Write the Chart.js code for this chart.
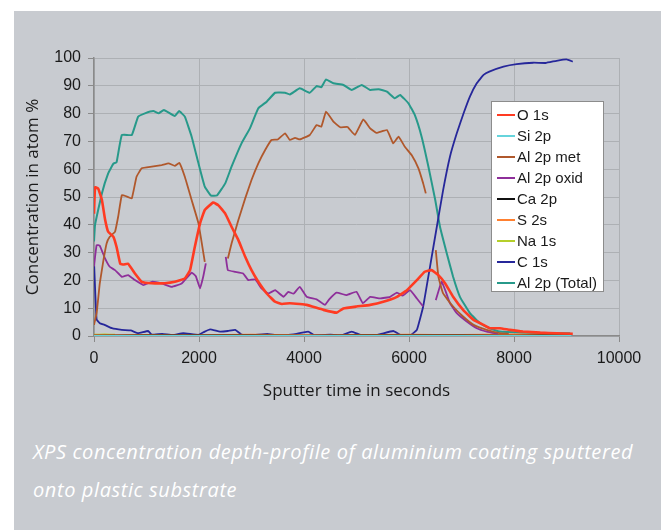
<!DOCTYPE html>
<html>
<head>
<meta charset="utf-8">
<script src="https://cdn.jsdelivr.net/npm/chart.js@4.4.1/dist/chart.umd.min.js"></script>
<style>
  html, body { margin: 0; padding: 0; background: #ffffff; width: 661px; height: 532px; overflow: hidden; }
  #panel { position: absolute; left: 14px; top: 11px; width: 647px; height: 519px; background: #c8cbd0; }
  #c { position: absolute; left: 0; top: 0; }
  #legend { position: absolute; left: 491px; top: 101px; width: 111px; height: 187px; background: #ffffff;
            border: 1px solid #8c8c8c; padding-top: 2px; font-family: 'Liberation Sans', Arial, sans-serif; font-size: 15px; color: #1a1a1a; }
  .item { position: relative; height: 21px; line-height: 21px; padding-left: 25px; white-space: nowrap; }
  .swatch { position: absolute; left: 5px; top: 10px; width: 18px; height: 2px; }
  #caption { position: absolute; left: 33px; top: 433px; font-family: 'Open Sans', 'Noto Sans', sans-serif; font-style: italic;
             font-size: 20px; letter-spacing: 0.6px; line-height: 38px; color: #ffffff; white-space: nowrap; }
</style>
</head>
<body>
<div id="panel"></div>
<canvas id="c" width="661" height="420"></canvas>
<div id="legend"></div>
<div id="caption">XPS concentration depth-profile of aluminium coating sputtered<br>onto plastic substrate</div>
<script>
// ---- data (sputter time in s, concentration in atom %) ----
const seriesNames = ['O 1s', 'Si 2p', 'Al 2p met', 'Al 2p oxid', 'Ca 2p', 'S 2s', 'Na 1s', 'C 1s', 'Al 2p (Total)'];

const o1sT = [0, 20, 80, 150, 210, 270, 370, 430, 500, 560, 650, 780, 910, 1100, 1350, 1540, 1730, 1830, 1920, 2020, 2110, 2270, 2370, 2500, 2620, 2750, 2880, 3000, 3130, 3290, 3450, 3580, 3730, 3920, 4050, 4370, 4620, 4750, 5000, 5260, 5510, 5770, 5960, 6150, 6300, 6430, 6560, 6690, 6840, 7030, 7230, 7420, 7540, 7730, 7920, 8170, 8500, 8810, 9120];
const o1sV = [44, 53.5, 53, 49, 42, 37.5, 35.7, 32, 26, 25.7, 26, 22.5, 19.5, 19, 19, 19.5, 20.7, 23.7, 32, 40.5, 45.3, 48, 47, 44, 39.3, 34.5, 28.5, 23.7, 19.5, 15.3, 12.3, 11.5, 11.8, 11.5, 11.2, 9.4, 8.4, 9.9, 10.6, 11.2, 12.3, 14.1, 16.5, 20.1, 23.1, 23.7, 21.9, 18.9, 14.1, 9.4, 5.8, 4, 2.8, 2.8, 2.2, 1.6, 1.2, 1.0, 0.8];

const si2pT = [0, 9100];
const si2pV = [0.1, 0.1];

const alMetT = [0, 50, 110, 180, 240, 300, 400, 460, 530, 620, 720, 810, 910, 1100, 1290, 1420, 1540, 1625, 1730, 1860, 1990, 2110, 2300, 2550, 2620, 2750, 2880, 3000, 3130, 3260, 3380, 3500, 3640, 3730, 3830, 3920, 4110, 4240, 4330, 4420, 4560, 4690, 4830, 4970, 5130, 5260, 5380, 5580, 5700, 5800, 5920, 6050, 6180, 6270, 6320, 6420, 6510, 6560, 6650, 6840, 7030, 7230, 7480, 7730, 7900];
const alMetV = [4, 8.2, 18.9, 27.3, 33.3, 35.7, 37.5, 42.9, 50.7, 50.2, 49.5, 57.3, 60.3, 60.9, 61.5, 62.1, 61.2, 62.3, 57.3, 48.9, 40.5, 26.7, null, 27.9, 33.3, 41.7, 49.5, 56.1, 62.1, 66.9, 70.5, 70.7, 72.9, 70.5, 71.3, 70.7, 72.3, 75.9, 75.3, 80.7, 77.1, 75.1, 75.2, 72.3, 77.9, 74.7, 73.1, 74.1, 69.3, 71.7, 68.1, 65.1, 60.3, 54.9, 51.3, null, 30.9, 21.3, 15.3, 10.6, 7.0, 4.0, 2.2, 1.0, 0.8];

const alOxT = [0, 50, 110, 210, 300, 400, 530, 650, 780, 940, 1100, 1290, 1480, 1670, 1860, 1940, 2020, 2080, 2130, 2300, 2510, 2550, 2690, 2840, 2940, 3070, 3190, 3320, 3450, 3610, 3700, 3800, 3920, 4050, 4240, 4400, 4480, 4620, 4810, 5000, 5120, 5260, 5450, 5640, 5770, 5880, 6020, 6150, 6270, 6400, 6510, 6620, 6690, 6780, 6910, 7100, 7290, 7480, 7700];
const alOxV = [25, 32.7, 32.5, 27.9, 24.9, 23.7, 21.3, 21.9, 20.1, 18.3, 19.5, 18.9, 17.7, 18.9, 22.8, 21.5, 17.1, 21.3, 26.1, null, 28.5, 23.7, 23.1, 22.5, 20.1, 20.4, 17.1, 15.3, 16.5, 14.1, 15.9, 15.2, 17.7, 14.1, 13.2, 11.2, 13.2, 15.6, 14.7, 15.9, 11.8, 14.1, 13.5, 14.1, 15.6, 14.5, 16.5, 13.5, 10.6, null, 12.9, 19.5, 16.5, 11.8, 8.2, 5.2, 2.8, 1.6, 0.8];

const ca2pT = [0, 2000, 4000, 6000, 8000, 9100];
const ca2pV = [0.2, 0.3, 0.2, 0.3, 0.2, 0.3];

const s2sT = [0, 1000, 2000, 3000, 4000, 5000, 6000, 7000, 8000, 9100];
const s2sV = [0.3, 0.4, 0.3, 0.5, 0.3, 0.4, 0.5, 0.4, 0.6, 0.5];

const na1sT = [0, 200, 400];
const na1sV = [0.5, 0.6, 0.5];

const c1sT = [0, 25, 50, 110, 200, 340, 530, 700, 840, 1030, 1100, 1300, 1500, 1700, 1990, 2100, 2210, 2400, 2550, 2690, 2810, 3000, 3300, 3500, 3800, 4080, 4200, 4500, 4700, 4910, 5100, 5400, 5700, 5850, 6020, 6150, 6270, 6400, 6530, 6650, 6780, 6910, 7040, 7160, 7290, 7420, 7530, 7800, 8050, 8370, 8600, 8810, 9000, 9120];
const c1sV = [27, 15, 6, 4.6, 4, 2.8, 2.2, 2.0, 1, 1.8, 0.5, 0.8, 0.3, 1.0, 0.4, 1.5, 2.4, 1.6, 1.8, 2.2, 0.5, 0.3, 0.8, 0.2, 0.6, 1.6, 0.3, 0.5, 0.2, 1.6, 0.2, 0.4, 1.8, 0.3, 0.2, 2.2, 10.6, 24.9, 39.3, 52.5, 64.5, 72.9, 80.1, 86.1, 90.9, 93.9, 95.1, 96.9, 97.8, 98.3, 98.2, 99, 99.5, 98.7];

const alTotT = [0, 20, 150, 270, 370, 430, 530, 720, 840, 970, 1130, 1230, 1330, 1540, 1620, 1730, 1860, 1990, 2110, 2230, 2340, 2500, 2620, 2810, 2970, 3130, 3290, 3450, 3640, 3730, 3920, 4110, 4240, 4330, 4420, 4560, 4750, 4910, 5100, 5260, 5420, 5580, 5730, 5830, 5990, 6110, 6240, 6370, 6500, 6590, 6720, 6840, 6970, 7160, 7350, 7540, 7730, 8170, 8600, 9070];
const alTotV = [34, 40, 51.3, 58.5, 62, 62.5, 72.3, 72.3, 78.9, 80.1, 80.9, 80.1, 81.3, 79.1, 80.9, 78.9, 71.7, 62.1, 53.7, 50.5, 50.5, 54.9, 60.9, 69.3, 74.7, 81.9, 84.3, 87.5, 87.5, 86.9, 89.1, 87.5, 89.9, 89.5, 92.3, 90.9, 90.3, 88.5, 90.3, 88.5, 88.8, 87.9, 85.5, 86.7, 83.7, 79.5, 71.7, 60.9, 48.9, 39.3, 29.7, 21.3, 14.1, 8.2, 4.6, 2.8, 1.6, 1.2, 1.0, 1.0];

const xTicks = [0, 2000, 4000, 6000, 8000, 10000];
const yTicks = [0, 10, 20, 30, 40, 50, 60, 70, 80, 90, 100];

// ---- styling ----
const colors = ['#ff3b22', '#66d4dc', '#b0582c', '#8e2f9a', '#111111', '#ff8030', '#b5cf2a', '#26279a', '#27998a'];
const widths = [2.6, 1.6, 1.8, 1.8, 1.4, 1.6, 1.6, 1.8, 2.0];

const seriesT = [o1sT, si2pT, alMetT, alOxT, ca2pT, s2sT, na1sT, c1sT, alTotT];
const seriesV = [o1sV, si2pV, alMetV, alOxV, ca2pV, s2sV, na1sV, c1sV, alTotV];

const datasets = seriesNames.map((name, i) => ({
  label: name,
  data: seriesT[i].map((t, j) => ({ x: t, y: seriesV[i][j] })),
  borderColor: colors[i],
  backgroundColor: colors[i],
  borderWidth: widths[i],
  pointRadius: 0,
  tension: 0.1,
  spanGaps: false,
  fill: false
}));

const tickFont = { family: "'Liberation Sans', Arial, sans-serif", size: 16 };
const titleFont = { family: "'Open Sans', 'Noto Sans', sans-serif", size: 17 };

new Chart(document.getElementById('c'), {
  type: 'line',
  data: { datasets },
  options: {
    responsive: false,
    animation: false,
    devicePixelRatio: 1,
    layout: { padding: { left: 14, top: 58, right: 42, bottom: 14 } },
    plugins: { legend: { display: false }, tooltip: { enabled: false } },
    scales: {
      x: {
        type: 'linear', min: 0, max: 10000,
        afterFit: s => { s.height = 70; },
        afterBuildTicks: s => { s.ticks = xTicks.map(v => ({ value: v })); },
        ticks: { font: tickFont, color: '#1a1a1a', padding: 7, maxRotation: 0, callback: v => String(v) },
        grid: { color: '#adb0b4', lineWidth: 1, tickLength: 6, tickColor: '#8a8a8a' },
        border: { color: '#8a8a8a', width: 1.5 },
        title: { display: true, text: 'Sputter time in seconds', font: titleFont, color: '#1a1a1a', padding: { top: 4, bottom: 5 } }
      },
      y: {
        type: 'linear', min: 0, max: 100,
        afterFit: s => { s.width = 80; },
        afterBuildTicks: s => { s.ticks = yTicks.map(v => ({ value: v })); },
        ticks: { font: tickFont, color: '#1a1a1a', padding: 7, callback: v => String(v) },
        grid: { color: '#adb0b4', lineWidth: 1, tickLength: 6, tickColor: '#8a8a8a' },
        border: { color: '#8a8a8a', width: 1.5 },
        title: { display: true, text: 'Concentration in atom %', font: titleFont, color: '#1a1a1a', padding: { top: 9, bottom: 4 } }
      }
    }
  }
});

// ---- legend ----
const legend = document.getElementById('legend');
seriesNames.forEach((name, i) => {
  const it = document.createElement('div');
  it.className = 'item';
  const sw = document.createElement('span');
  sw.className = 'swatch';
  sw.style.background = colors[i];
  it.appendChild(sw);
  it.appendChild(document.createTextNode(name));
  legend.appendChild(it);
});
</script>
</body>
</html>
